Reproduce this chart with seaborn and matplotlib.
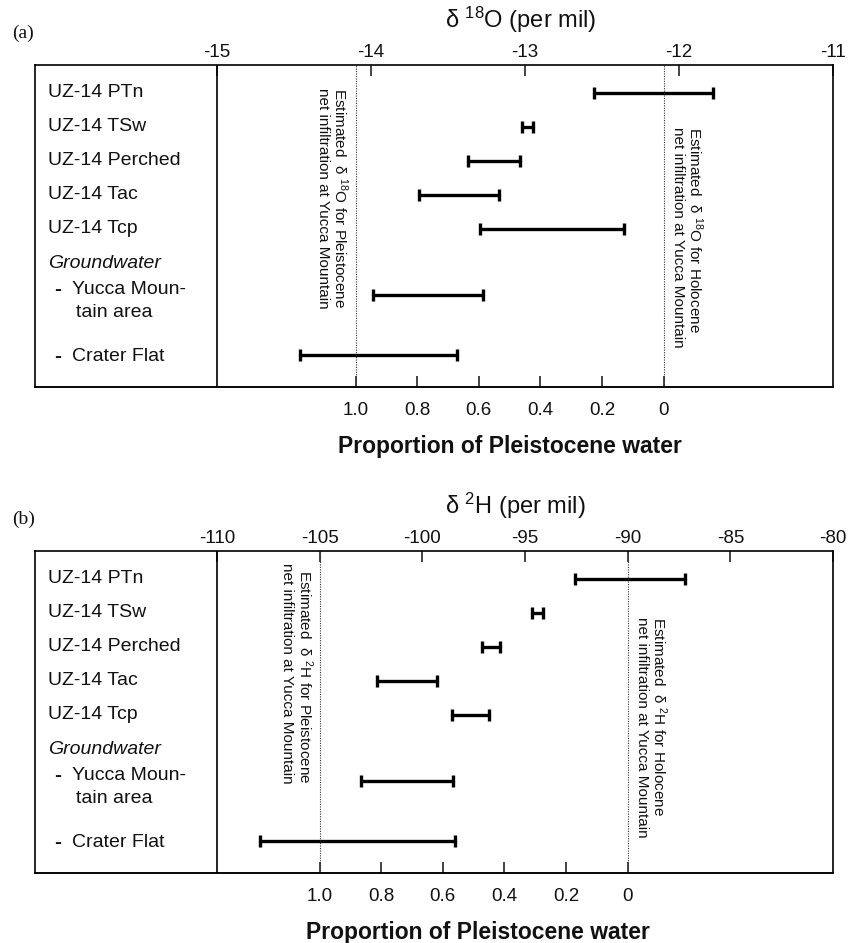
import matplotlib
matplotlib.use("Agg")
import matplotlib.pyplot as plt
import seaborn as sns
import pandas as pd

sns.set_style("white")
plt.rcParams['font.family'] = ['Liberation Sans', 'DejaVu Sans']
plt.rcParams['mathtext.fontset'] = 'custom'
plt.rcParams['mathtext.rm'] = 'Liberation Sans'
plt.rcParams['mathtext.it'] = 'Liberation Sans:italic'
plt.rcParams['mathtext.bf'] = 'Liberation Sans:bold'
plt.rcParams['axes.unicode_minus'] = False

# data
sites = ['UZ-14 PTn', 'UZ-14 TSw', 'UZ-14 Perched', 'UZ-14 Tac', 'UZ-14 Tcp',
         'Yucca Mountain area', 'Crater Flat']
bar_rows = [0, 1, 2, 3, 4, 5.94, 7.72]

o18_low = [-12.55, -13.02, -13.37, -13.69, -13.29, -13.99, -14.46]
o18_high = [-11.78, -12.95, -13.03, -13.17, -12.36, -13.27, -13.44]
h2_low = [-92.56, -94.66, -97.09, -102.21, -98.55, -102.99, -107.90]
h2_high = [-87.20, -94.12, -96.22, -99.28, -96.75, -98.50, -98.40]

o18_ticks = [-15, -14, -13, -12, -11]
h2_ticks = [-110, -105, -100, -95, -90, -85, -80]
prop_ticks = [1.0, 0.8, 0.6, 0.4, 0.2, 0]
prop_labels = ['1.0', '0.8', '0.6', '0.4', '0.2', '0']

o18_pleist, o18_holo = -14.1, -12.1
h2_pleist, h2_holo = -105, -90

label_rows = [0, 1, 2, 3, 4]
W, H = 855, 943


def draw_panel(ax, low, high, ticks, pleist, holo, xleft, title, iso, xlab_x,
               top_px, pleist_y, holo_y, tag):
    df = pd.DataFrame({'site': sites * 2, 'delta': low + high,
                       'row': bar_rows * 2})
    sns.lineplot(data=df, x='delta', y='row', units='site', estimator=None,
                 color='black', lw=2.4, marker='|', markersize=9,
                 markeredgewidth=2.4, markeredgecolor='black', legend=False,
                 ax=ax)
    ax.set_xlim(xleft, ticks[-1])
    ax.set_ylim(8.65, -0.82)
    ax.set_yticks([])
    ax.set_xlabel('')
    ax.set_ylabel('')
    for s in ax.spines.values():
        s.set_linewidth(1.2)
        s.set_color('black')
    ax.axvline(ticks[0], color='black', lw=1.2)
    ax.axvline(pleist, color='#333333', lw=0.8, ls=(0, (1, 1.2)))
    ax.axvline(holo, color='#333333', lw=0.8, ls=(0, (1, 1.2)))

    ax.set_xticks(ticks)
    ax.set_xticklabels([str(t) for t in ticks])
    ax.tick_params(axis='x', direction='in', length=8, width=1.1, labelsize=13.5,
                   pad=3, top=True, bottom=False, labeltop=True,
                   labelbottom=False, colors='#111111')

    span = (holo - pleist)
    sec = ax.secondary_xaxis('bottom',
                             functions=(lambda d: (holo - d) / span,
                                        lambda p: holo - p * span))
    sec.set_xticks(prop_ticks)
    sec.set_xticklabels(prop_labels)
    sec.tick_params(direction='in', length=8, width=1.1, labelsize=13.5, pad=11,
                    colors='#111111')
    sec.spines['bottom'].set_linewidth(1.2)

    # left side labels
    tr = ax.get_yaxis_transform()
    for name, r in zip(sites[:5], label_rows):
        ax.text(0.016, r, name, transform=tr, ha='left', va='center',
                fontsize=14, color='#111111')
    ax.text(0.016, 5.03, 'Groundwater', transform=tr, ha='left', va='center',
            fontsize=14, style='italic', color='#111111')
    ax.text(0.024, 5.79, '-', transform=tr, ha='left', va='center',
            fontsize=15, fontweight='bold', color='#111111')
    ax.text(0.046, 5.79, 'Yucca Moun-', transform=tr, ha='left', va='center',
            fontsize=14, color='#111111')
    ax.text(0.052, 6.47, 'tain area', transform=tr, ha='left', va='center',
            fontsize=14, color='#111111')
    ax.text(0.024, 7.76, '-', transform=tr, ha='left', va='center',
            fontsize=15, fontweight='bold', color='#111111')
    ax.text(0.046, 7.76, 'Crater Flat', transform=tr, ha='left', va='center',
            fontsize=14, color='#111111')

    # rotated notes beside the dotted lines
    ax.annotate('Estimated  \u03b4 $^{%s}$ for Pleistocene\nnet infiltration at Yucca Mountain' % iso,
                xy=(pleist, pleist_y), xytext=(-4, 0), textcoords='offset points',
                rotation=270, ha='right', va='top', fontsize=11,
                linespacing=1.15, color='#111111')
    ax.annotate('Estimated  \u03b4 $^{%s}$ for Holocene\nnet infiltration at Yucca Mountain' % iso,
                xy=(holo, holo_y), xytext=(5, 0), textcoords='offset points',
                rotation=270, ha='left', va='top', fontsize=11,
                linespacing=1.15, color='#111111')

    # titles and labels in figure pixels
    fig.text(445 / W, 1 - (top_px - 45) / H, title, ha='left', va='center',
             fontsize=17, color='#111111')
    fig.text(xlab_x / W, 1 - (top_px + 382) / H, 'Proportion of Pleistocene water',
             ha='center', va='center', fontsize=16.5, fontweight='bold',
             color='#111111')
    fig.text(12 / W, 1 - (top_px - 32) / H, tag, ha='left', va='center',
             fontsize=14, family='Liberation Serif', color='#111111')


fig = plt.figure(figsize=(W / 100, H / 100), dpi=100)
ax1 = fig.add_axes([35 / W, 1 - 387 / H, 798 / W, 322 / H])
ax2 = fig.add_axes([35 / W, 1 - 873 / H, 798 / W, 322 / H])

draw_panel(ax1, o18_low, o18_high, o18_ticks, o18_pleist, o18_holo,
           -15 - 182 / 154.0, '\u03b4 $^{18}$O (per mil)', '18}$O$^{', 510, 65,
           -0.14, 1.0, '(a)')
draw_panel(ax2, h2_low, h2_high, h2_ticks, h2_pleist, h2_holo,
           -110 - 182 / 20.533, '\u03b4 $^{2}$H (per mil)', '2}$H$^{', 478, 551,
           -0.47, 1.12, '(b)')

fig.savefig('out.png', dpi=100)
